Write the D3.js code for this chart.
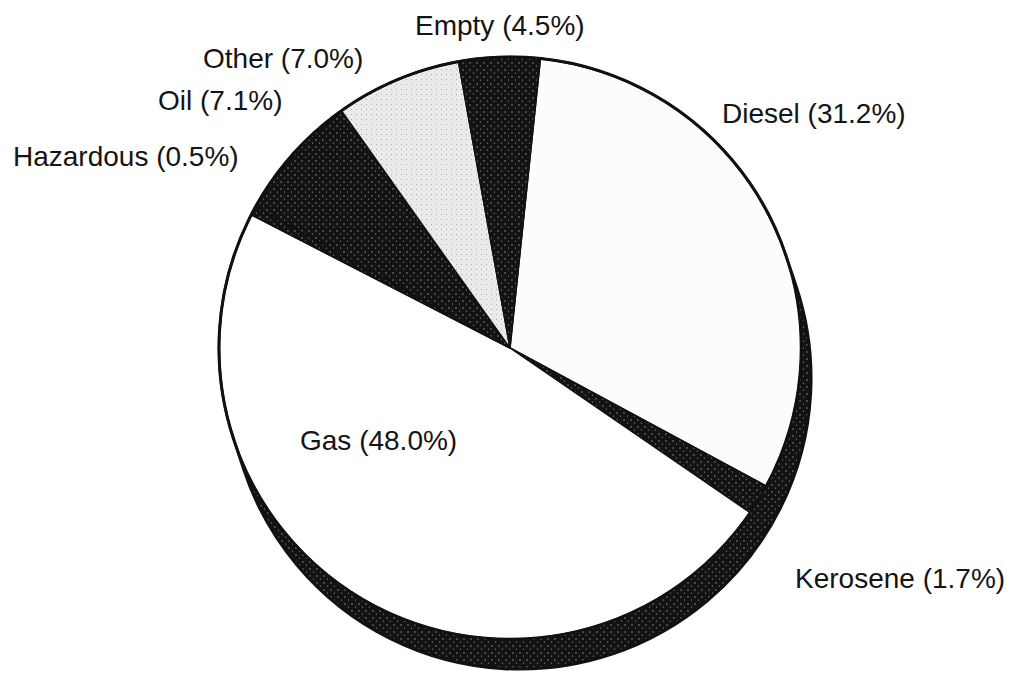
<!DOCTYPE html>
<html>

<head>
    <meta charset="utf-8">
    <style>
        body {
            margin: 0;
            background: #fff;
        }

        svg {
            display: block;
        }

        .label {
            font-family: 'Liberation Sans', Arial, sans-serif;
            font-size: 28px;
            fill: #141414;
        }

        .slice {
            stroke: #111;
            stroke-width: 1.5px;
        }

        .rim {
            fill: none;
            stroke: #111;
            stroke-width: 3px;
        }
    </style>
</head>

<body>
    <svg width="1017" height="675"></svg>

    <script src="https://d3js.org/d3.v7.min.js"></script>
    <script>
        // data, clockwise from 12 o'clock
        let categories = ["Diesel", "Kerosene", "Gas", "Hazardous", "Oil", "Other", "Empty"];
        let shares = [31.2, 1.7, 48.0, 0.5, 7.1, 7.0, 4.5];

        let cx = 510, cy = 348, r = 291;
        let depth = { x: 10, y: 30 };   // thickness of the tilted disc
        let start = 6 * Math.PI / 180;

        let fills = {
            "Diesel": "#fcfcfc",
            "Kerosene": "url(#dark)",
            "Gas": "#ffffff",
            "Hazardous": "url(#dark)",
            "Oil": "url(#dark)",
            "Other": "url(#stipple)",
            "Empty": "url(#dark)"
        };

        // where each label sits (left edge, baseline)
        let labelPos = {
            "Diesel": [722, 123],
            "Kerosene": [795, 588],
            "Gas": [300, 450],
            "Hazardous": [13, 166],
            "Oil": [158, 110],
            "Other": [203, 68],
            "Empty": [415, 35]
        };

        let svg = d3.select("svg");

        let defs = svg.append("defs");

        let dark = defs.append("pattern")
            .attr("id", "dark")
            .attr("width", 7).attr("height", 7)
            .attr("patternUnits", "userSpaceOnUse");
        dark.append("rect").attr("width", 7).attr("height", 7).attr("fill", "#131313");
        dark.append("circle").attr("cx", 2).attr("cy", 2).attr("r", 0.8).attr("fill", "#8a8a8a");
        dark.append("circle").attr("cx", 5.5).attr("cy", 5).attr("r", 0.6).attr("fill", "#a0a0a0");

        let stip = defs.append("pattern")
            .attr("id", "stipple")
            .attr("width", 5).attr("height", 5)
            .attr("patternUnits", "userSpaceOnUse");
        stip.append("rect").attr("width", 5).attr("height", 5).attr("fill", "#ececec");
        stip.append("circle").attr("cx", 1.5).attr("cy", 1.5).attr("r", 0.7).attr("fill", "#b4b4b4");
        stip.append("circle").attr("cx", 4).attr("cy", 3.8).attr("r", 0.5).attr("fill", "#c8c8c8");

        // side of the disc: hull of the top circle and the shifted one
        let a = Math.atan2(depth.y, depth.x);
        let side = d3.path();
        side.moveTo(cx + r * Math.cos(a - Math.PI / 2), cy + r * Math.sin(a - Math.PI / 2));
        side.lineTo(cx + depth.x + r * Math.cos(a - Math.PI / 2), cy + depth.y + r * Math.sin(a - Math.PI / 2));
        side.arc(cx + depth.x, cy + depth.y, r, a - Math.PI / 2, a + Math.PI / 2, false);
        side.lineTo(cx + r * Math.cos(a + Math.PI / 2), cy + r * Math.sin(a + Math.PI / 2));
        side.arc(cx, cy, r, a + Math.PI / 2, a + 3 * Math.PI / 2, false);
        side.closePath();

        svg.append("path")
            .attr("d", side.toString())
            .attr("fill", "url(#dark)");

        let pie = d3.pie()
            .sort(null)
            .value((d, i) => shares[i])
            .startAngle(start)
            .endAngle(start + 2 * Math.PI);

        let arc = d3.arc()
            .innerRadius(0)
            .outerRadius(r);

        let arcs = pie(categories);

        svg.append("g")
            .attr("transform", `translate(${cx},${cy})`)
            .selectAll("path")
            .data(arcs)
            .join("path")
            .attr("class", "slice")
            .attr("fill", d => fills[d.data])
            .attr("d", arc);

        // outlines
        svg.append("path")
            .attr("class", "rim")
            .attr("d", side.toString());

        svg.append("circle")
            .attr("class", "rim")
            .attr("cx", cx).attr("cy", cy).attr("r", r)
            .style("stroke-width", "2.5px");

        svg.append("g")
            .selectAll("text")
            .data(categories)
            .join("text")
            .attr("class", "label")
            .attr("x", d => labelPos[d][0])
            .attr("y", d => labelPos[d][1])
            .text((d, i) => `${d} (${shares[i].toFixed(1)}%)`);
    </script>
</body>

</html>
